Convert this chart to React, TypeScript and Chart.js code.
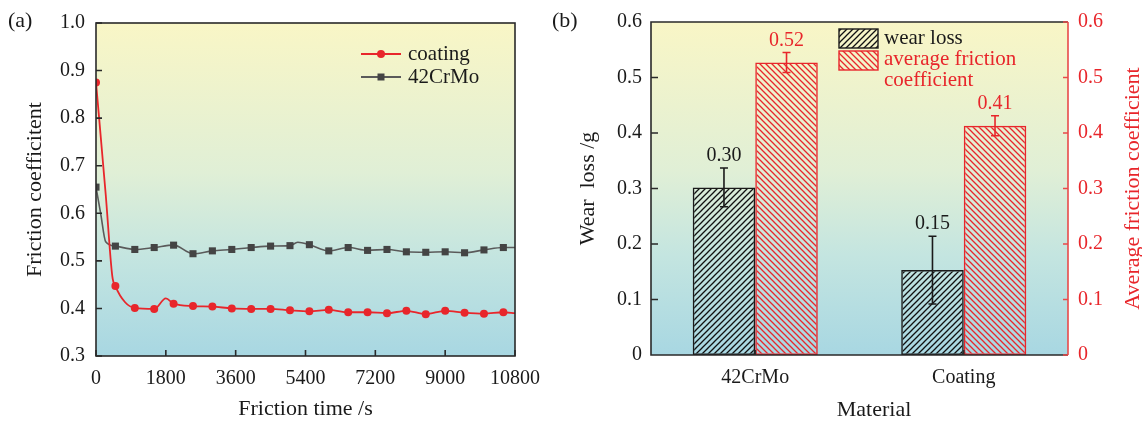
import React, { useEffect, useRef } from "react";
import { Chart, registerables } from "chart.js";

Chart.register(...registerables);

// ---------------- data: panel (a) ----------------
const timeTicks = [0, 1800, 3600, 5400, 7200, 9000, 10800];
const frictionTicks = [0.3, 0.4, 0.5, 0.6, 0.7, 0.8, 0.9, 1.0];

const coatingTime = [0, 250, 420, 500, 750, 1000, 1500, 1800, 2000, 2500, 3000, 3500, 4000, 4500, 5000, 5500, 6000, 6500, 7000, 7500, 8000, 8500, 9000, 9500, 10000, 10500, 10800];
const coatingValue = [0.875, 0.64, 0.468, 0.447, 0.413, 0.401, 0.399, 0.421, 0.41, 0.405, 0.404, 0.4, 0.399, 0.399, 0.396, 0.394, 0.397, 0.392, 0.392, 0.39, 0.395, 0.388, 0.395, 0.391, 0.389, 0.392, 0.39];

const steelTime = [0, 120, 250, 500, 1000, 1500, 2000, 2500, 3000, 3500, 4000, 4500, 5000, 5200, 5500, 6000, 6500, 7000, 7500, 8000, 8500, 9000, 9500, 10000, 10500, 10800];
const steelValue = [0.655, 0.6, 0.54, 0.531, 0.524, 0.528, 0.533, 0.515, 0.521, 0.524, 0.528, 0.531, 0.532, 0.539, 0.534, 0.521, 0.528, 0.522, 0.524, 0.519, 0.518, 0.519, 0.517, 0.523, 0.528, 0.528];

const markerEvery = 500;

// ---------------- data: panel (b) ----------------
const materials = ["42CrMo", "Coating"];
const wearLoss = [0.302, 0.153];
const wearLossErr = [0.035, 0.061];
const wearLossLabels = ["0.30", "0.15"];
const avgFriction = [0.527, 0.413];
const avgFrictionErr = [0.018, 0.018];
const avgFrictionLabels = ["0.52", "0.41"];
const barTicks = [0, 0.1, 0.2, 0.3, 0.4, 0.5, 0.6];

// ---------------- styles ----------------
const FONT = "'Liberation Serif', 'Times New Roman', serif";
const RED = "#e8262b";
const RED_AXIS = "#e84a4a";
const GREY = "#5a5a5a";
const INK = "#1a1a1a";
const FRAME = "#2a2a2a";

const tickFont = { family: FONT, size: 20 };
const titleFont = { family: FONT, size: 22 };

function fillBackground(chart: any) {
  const { ctx, chartArea: a } = chart;
  const g = ctx.createLinearGradient(0, a.top, 0, a.bottom);
  g.addColorStop(0, "#f9f6c6");
  g.addColorStop(0.45, "#e0efd6");
  g.addColorStop(0.7, "#c4e5e0");
  g.addColorStop(1, "#a8d7e2");
  ctx.save();
  ctx.fillStyle = g;
  ctx.fillRect(a.left, a.top, a.width, a.height);
  ctx.restore();
}

function makeHatch(ctx: CanvasRenderingContext2D, color: string, forward: boolean) {
  const size = 6;
  const c = document.createElement("canvas");
  c.width = size;
  c.height = size;
  const x = c.getContext("2d")!;
  x.strokeStyle = color;
  x.lineWidth = 1.3;
  x.beginPath();
  if (forward) {
    x.moveTo(-1, size + 1);
    x.lineTo(size + 1, -1);
    x.moveTo(-1, 1);
    x.lineTo(1, -1);
    x.moveTo(size - 1, size + 1);
    x.lineTo(size + 1, size - 1);
  } else {
    x.moveTo(-1, -1);
    x.lineTo(size + 1, size + 1);
    x.moveTo(size - 1, -1);
    x.lineTo(size + 1, 1);
    x.moveTo(-1, size - 1);
    x.lineTo(1, size + 1);
  }
  x.stroke();
  return ctx.createPattern(c, "repeat")!;
}

function drawText(ctx: CanvasRenderingContext2D, text: string, x: number, y: number, size: number, color: string, align: CanvasTextAlign = "left") {
  ctx.save();
  ctx.font = `${size}px ${FONT}`;
  ctx.fillStyle = color;
  ctx.textAlign = align;
  ctx.textBaseline = "middle";
  ctx.fillText(text, x, y);
  ctx.restore();
}

export default function App() {
  const leftRef = useRef<HTMLCanvasElement | null>(null);
  const rightRef = useRef<HTMLCanvasElement | null>(null);

  useEffect(() => {
    const lc = leftRef.current!;
    const rc = rightRef.current!;

    // ---------- panel (a) ----------
    const leftPlugin = {
      id: "leftDecor",
      beforeDraw(chart: any) {
        fillBackground(chart);
      },
      afterDraw(chart: any) {
        const { ctx, chartArea: a, scales } = chart;
        ctx.save();
        ctx.strokeStyle = FRAME;
        ctx.lineWidth = 1.6;
        ctx.strokeRect(a.left, a.top, a.width, a.height);
        ctx.beginPath();
        scales.y.ticks.forEach((t: any) => {
          const py = scales.y.getPixelForValue(t.value);
          ctx.moveTo(a.left, py);
          ctx.lineTo(a.left + 6, py);
        });
        scales.x.ticks.forEach((t: any) => {
          const px = scales.x.getPixelForValue(t.value);
          ctx.moveTo(px, a.bottom);
          ctx.lineTo(px, a.bottom - 6);
        });
        ctx.stroke();
        // legend
        const ly1 = 54, ly2 = 77;
        ctx.lineWidth = 1.8;
        ctx.strokeStyle = RED;
        ctx.beginPath();
        ctx.moveTo(361, ly1);
        ctx.lineTo(401, ly1);
        ctx.stroke();
        ctx.fillStyle = RED;
        ctx.beginPath();
        ctx.arc(381, ly1, 4, 0, Math.PI * 2);
        ctx.fill();
        ctx.strokeStyle = GREY;
        ctx.beginPath();
        ctx.moveTo(361, ly2);
        ctx.lineTo(401, ly2);
        ctx.stroke();
        ctx.fillStyle = "#444";
        ctx.fillRect(377.5, ly2 - 3.5, 7, 7);
        ctx.restore();
        drawText(ctx, "coating", 408, ly1, 21, INK);
        drawText(ctx, "42CrMo", 408, ly2, 21, INK);
        drawText(ctx, "(a)", 8, 21, 22, INK);
      },
    };

    const markerRadius = (size: number) => (c: any) =>
      c.raw && c.raw.x % markerEvery === 0 ? size : 0;

    const left = new Chart(lc, {
      type: "line",
      data: {
        datasets: [
          {
            label: "coating",
            data: coatingTime.map((t, i) => ({ x: t, y: coatingValue[i] })),
            borderColor: RED,
            backgroundColor: RED,
            borderWidth: 1.8,
            pointStyle: "circle",
            pointRadius: markerRadius(4) as any,
            pointBorderWidth: 0,
            cubicInterpolationMode: "monotone",
          },
          {
            label: "42CrMo",
            data: steelTime.map((t, i) => ({ x: t, y: steelValue[i] })),
            borderColor: GREY,
            backgroundColor: "#444",
            borderWidth: 1.6,
            pointStyle: "rect",
            pointRadius: markerRadius(5) as any,
            pointBorderWidth: 0,
            cubicInterpolationMode: "monotone",
          },
        ],
      },
      options: {
        animation: false,
        responsive: false,
        maintainAspectRatio: false,
        devicePixelRatio: 1,
        events: [],
        layout: { padding: { left: 0, top: 19, right: 627, bottom: 0 } },
        plugins: { legend: { display: false }, tooltip: { enabled: false } },
        scales: {
          x: {
            type: "linear",
            min: 0,
            max: 10800,
            afterBuildTicks: (s: any) => {
              s.ticks = timeTicks.map((v) => ({ value: v }));
            },
            grid: { display: false, drawTicks: false },
            border: { display: false },
            ticks: {
              font: tickFont,
              color: INK,
              padding: 11,
              maxRotation: 0,
              autoSkip: false,
              callback: (v: any) => String(v),
            },
            title: {
              display: true,
              text: "Friction time /s",
              font: titleFont,
              color: INK,
              padding: { top: 0, bottom: 0 },
            },
            afterFit: (s: any) => {
              s.height = 66;
            },
          },
          y: {
            type: "linear",
            min: 0.3,
            max: 1.0,
            afterBuildTicks: (s: any) => {
              s.ticks = frictionTicks.map((v) => ({ value: v }));
            },
            grid: { display: false, drawTicks: false },
            border: { display: false },
            ticks: {
              font: tickFont,
              color: INK,
              padding: 11,
              callback: (v: any) => Number(v).toFixed(1),
            },
            title: {
              display: true,
              text: "Friction coefficitent",
              font: titleFont,
              color: INK,
              padding: { top: 22, bottom: 0 },
            },
            afterFit: (s: any) => {
              s.width = 96;
            },
          },
        },
      },
      plugins: [leftPlugin],
    } as any);

    // ---------- panel (b) ----------
    const rctx = rc.getContext("2d")!;
    const blackHatch = makeHatch(rctx, "#111", true);
    const redHatch = makeHatch(rctx, RED, false);

    const rightPlugin = {
      id: "rightDecor",
      beforeDraw(chart: any) {
        fillBackground(chart);
      },
      afterDatasetsDraw(chart: any) {
        const { ctx } = chart;
        const sets = [
          { err: wearLossErr, labels: wearLossLabels, color: INK },
          { err: avgFrictionErr, labels: avgFrictionLabels, color: RED },
        ];
        sets.forEach((s, di) => {
          const meta = chart.getDatasetMeta(di);
          const ds = chart.data.datasets[di];
          const scale = chart.scales[ds.yAxisID];
          meta.data.forEach((el: any, i: number) => {
            const v = ds.data[i] as number;
            const top = scale.getPixelForValue(v + s.err[i]);
            const bot = scale.getPixelForValue(v - s.err[i]);
            ctx.save();
            ctx.strokeStyle = s.color;
            ctx.lineWidth = 1.6;
            ctx.beginPath();
            ctx.moveTo(el.x, top);
            ctx.lineTo(el.x, bot);
            ctx.moveTo(el.x - 4, top);
            ctx.lineTo(el.x + 4, top);
            ctx.moveTo(el.x - 4, bot);
            ctx.lineTo(el.x + 4, bot);
            ctx.stroke();
            ctx.restore();
            drawText(ctx, s.labels[i], el.x, top - 12, 20, s.color, "center");
          });
        });
      },
      afterDraw(chart: any) {
        const { ctx, chartArea: a, scales } = chart;
        ctx.save();
        ctx.lineWidth = 1.6;
        ctx.strokeStyle = FRAME;
        ctx.beginPath();
        ctx.moveTo(a.right, a.top);
        ctx.lineTo(a.left, a.top);
        ctx.lineTo(a.left, a.bottom);
        ctx.lineTo(a.right, a.bottom);
        scales.y.ticks.forEach((t: any) => {
          const py = scales.y.getPixelForValue(t.value);
          ctx.moveTo(a.left, py);
          ctx.lineTo(a.left + 7, py);
        });
        scales.x.ticks.forEach((t: any, i: number) => {
          const px = scales.x.getPixelForTick(i);
          ctx.moveTo(px, a.bottom);
          ctx.lineTo(px, a.bottom - 5);
        });
        ctx.stroke();
        ctx.strokeStyle = RED_AXIS;
        ctx.beginPath();
        ctx.moveTo(a.right, a.top);
        ctx.lineTo(a.right, a.bottom);
        scales.y1.ticks.forEach((t: any) => {
          const py = scales.y1.getPixelForValue(t.value);
          ctx.moveTo(a.right, py);
          ctx.lineTo(a.right - 5, py);
        });
        ctx.stroke();

        // legend
        ctx.lineWidth = 1.4;
        ctx.fillStyle = blackHatch;
        ctx.fillRect(839, 29, 39, 19);
        ctx.strokeStyle = INK;
        ctx.strokeRect(839, 29, 39, 19);
        ctx.fillStyle = redHatch;
        ctx.fillRect(839, 51, 39, 19);
        ctx.strokeStyle = RED;
        ctx.strokeRect(839, 51, 39, 19);
        ctx.restore();
        drawText(ctx, "wear loss", 884, 38, 21, INK);
        drawText(ctx, "average friction", 884, 59, 21, RED);
        drawText(ctx, "coefficient", 884, 80, 21, RED);

        // titles
        drawText(ctx, "Material", 874, 410, 22, INK, "center");
        ctx.save();
        ctx.translate(1133, (a.top + a.bottom) / 2);
        ctx.rotate(-Math.PI / 2);
        drawText(ctx, "Average friction coefficient", 0, 0, 22, RED, "center");
        ctx.restore();
        drawText(ctx, "(b)", 552, 21, 22, INK);
      },
    };

    const right = new Chart(rc, {
      type: "bar",
      data: {
        labels: materials,
        datasets: [
          {
            label: "wear loss",
            data: wearLoss,
            yAxisID: "y",
            backgroundColor: blackHatch,
            borderColor: INK,
            borderWidth: 1.5,
            borderSkipped: false,
            categoryPercentage: 0.6,
            barPercentage: 1,
          },
          {
            label: "average friction coefficient",
            data: avgFriction,
            yAxisID: "y1",
            backgroundColor: redHatch,
            borderColor: RED,
            borderWidth: 1.5,
            borderSkipped: false,
            categoryPercentage: 0.6,
            barPercentage: 1,
          },
        ],
      },
      options: {
        animation: false,
        responsive: false,
        maintainAspectRatio: false,
        devicePixelRatio: 1,
        events: [],
        layout: { padding: { left: 560, top: 18, right: 0, bottom: 0 } },
        plugins: { legend: { display: false }, tooltip: { enabled: false } },
        scales: {
          x: {
            grid: { display: false, drawTicks: false },
            border: { display: false },
            ticks: { font: tickFont, color: INK, padding: 11 },
            afterFit: (s: any) => {
              s.height = 67;
            },
          },
          y: {
            position: "left",
            min: 0,
            max: 0.6,
            afterBuildTicks: (s: any) => {
              s.ticks = barTicks.map((v) => ({ value: v }));
            },
            grid: { display: false, drawTicks: false },
            border: { display: false },
            ticks: {
              font: tickFont,
              color: INK,
              padding: 9,
              callback: (v: any) => (Number(v) === 0 ? "0" : Number(v).toFixed(1)),
            },
            title: {
              display: true,
              text: "Wear  loss /g",
              font: titleFont,
              color: INK,
              padding: { top: 15, bottom: 0 },
            },
            afterFit: (s: any) => {
              s.width = 91;
            },
          },
          y1: {
            position: "right",
            min: 0,
            max: 0.6,
            afterBuildTicks: (s: any) => {
              s.ticks = barTicks.map((v) => ({ value: v }));
            },
            grid: { display: false, drawTicks: false },
            border: { display: false },
            ticks: {
              font: tickFont,
              color: RED,
              padding: 10,
              callback: (v: any) => (Number(v) === 0 ? "0" : Number(v).toFixed(1)),
            },
            afterFit: (s: any) => {
              s.width = 74;
            },
          },
        },
      },
      plugins: [rightPlugin],
    } as any);

    return () => {
      left.destroy();
      right.destroy();
    };
  }, []);

  const canvasStyle: React.CSSProperties = { position: "absolute", left: 0, top: 0, width: 1142, height: 422 };
  return (
    <div style={{ position: "absolute", left: 0, top: 0, width: 1142, height: 422, background: "#fff" }}>
      <canvas ref={leftRef} width={1142} height={422} style={canvasStyle} />
      <canvas ref={rightRef} width={1142} height={422} style={canvasStyle} />
    </div>
  );
}
